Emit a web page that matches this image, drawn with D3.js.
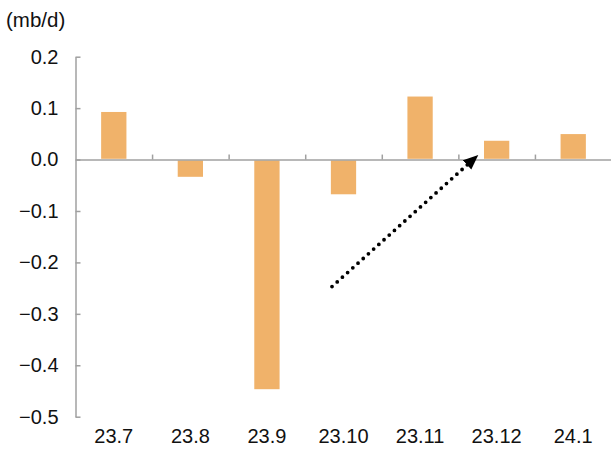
<!DOCTYPE html>
<html>
<head>
<meta charset="utf-8">
<script src="https://cdn.jsdelivr.net/npm/d3@7"></script>
<style>
  html, body { margin: 0; padding: 0; background: #fff; }
  svg { display: block; font-family: "Liberation Sans", Arial, sans-serif; }
</style>
</head>
<body>
<svg id="chart" width="611" height="450"></svg>
<script>
// Monthly change, mb/d
const months = ["23.7", "23.8", "23.9", "23.10", "23.11", "23.12", "24.1"];
const changes = [0.094, -0.035, -0.448, -0.069, 0.124, 0.038, 0.051];
const yTicks = [0.2, 0.1, 0.0, -0.1, -0.2, -0.3, -0.4, -0.5];
const unitLabel = "(mb/d)";
// trend arrow: [category position (index), value]
const arrowFrom = [2.85, -0.247];
const arrowTo = [4.76, 0.009];

const svg = d3.select("#chart");
const plotLeft = 75.5, plotRight = 611.5, plotTop = 56.7, plotBottom = 416.7;
const labelFont = "Liberation Sans, Arial, sans-serif";

const x = d3.scaleBand().domain(months).range([plotLeft, plotRight]).padding(0);
const xPos = d3.scaleLinear().domain([0, months.length]).range([plotLeft, plotRight]);
const y = d3.scaleLinear().domain([-0.5, 0.2]).range([plotBottom, plotTop]);

const axisColor = "#a0a0a0";

// y axis, ticks pointing into the plot
const yAxis = svg.append("g")
  .attr("transform", `translate(${plotLeft},0)`)
  .call(d3.axisLeft(y).tickValues(yTicks).tickFormat(d3.format(".1f"))
    .tickSizeInner(-5).tickSizeOuter(0).tickPadding(17));
yAxis.select(".domain").attr("stroke", axisColor).attr("stroke-width", 1.5);
yAxis.selectAll(".tick line").attr("stroke", axisColor).attr("stroke-width", 1.5);
yAxis.selectAll(".tick text").attr("font-size", 20).attr("fill", "#111")
  .attr("font-family", labelFont);

// bars
svg.append("g").selectAll("rect")
  .data(months.map((m, i) => ({ m, v: changes[i] })))
  .join("rect")
  .attr("x", d => x(d.m) + x.bandwidth() * 0.325)
  .attr("width", x.bandwidth() * 0.35)
  .attr("y", d => y(Math.max(0, d.v)))
  .attr("height", d => Math.abs(y(d.v) - y(0)))
  .attr("fill", "#F0B26A")
  .attr("stroke", "#fff")
  .attr("stroke-width", 1.5);

// zero line with category-boundary ticks
const zeroAxis = svg.append("g")
  .attr("transform", `translate(0,${y(0)})`)
  .call(d3.axisBottom(xPos).tickValues(d3.range(1, months.length + 1))
    .tickSizeInner(-5).tickSizeOuter(0).tickFormat(""));
zeroAxis.select(".domain").attr("stroke", axisColor).attr("stroke-width", 1.5);
zeroAxis.selectAll(".tick line").attr("stroke", axisColor).attr("stroke-width", 1.5);

// category labels
const catAxis = svg.append("g")
  .attr("transform", `translate(0,${plotBottom})`)
  .call(d3.axisBottom(x).tickSize(0).tickPadding(12));
catAxis.select(".domain").remove();
catAxis.selectAll(".tick text").attr("font-size", 20).attr("fill", "#111")
  .attr("font-family", labelFont);

// unit label
svg.append("text")
  .attr("x", 6).attr("y", 27)
  .attr("font-size", 20.5).attr("fill", "#111")
  .attr("font-family", labelFont)
  .text(unitLabel);

// dotted trend arrow
const defs = svg.append("defs");
defs.append("marker")
  .attr("id", "head")
  .attr("viewBox", "0 0 12 10")
  .attr("refX", 12).attr("refY", 5)
  .attr("markerWidth", 15).attr("markerHeight", 13)
  .attr("markerUnits", "userSpaceOnUse")
  .attr("orient", "auto")
  .append("path").attr("d", "M0,0 L12,5 L0,10 Z").attr("fill", "#000");

const ax = d => xPos(d[0] + 0.5), ay = d => y(d[1]);
const x1 = ax(arrowFrom), y1 = ay(arrowFrom), x2 = ax(arrowTo), y2 = ay(arrowTo);
const len = Math.hypot(x2 - x1, y2 - y1);
const ux = (x2 - x1) / len, uy = (y2 - y1) / len;
svg.append("line")
  .attr("x1", x1).attr("y1", y1)
  .attr("x2", x2 - ux * 11).attr("y2", y2 - uy * 11)
  .attr("stroke", "#000").attr("stroke-width", 3.8)
  .attr("stroke-linecap", "round")
  .attr("stroke-dasharray", "0 7");
svg.append("line")
  .attr("x1", x2 - ux * 12).attr("y1", y2 - uy * 12)
  .attr("x2", x2).attr("y2", y2)
  .attr("stroke", "none")
  .attr("marker-end", "url(#head)");
</script>
</body>
</html>
